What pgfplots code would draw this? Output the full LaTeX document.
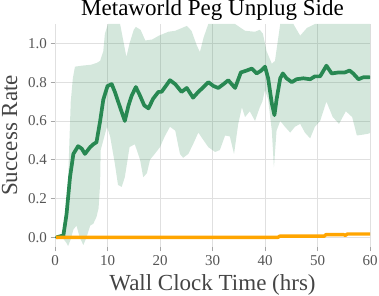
\documentclass[border=0pt]{standalone}
\usepackage{fontspec}
\setmainfont{Liberation Serif}
\usepackage{pgfplots}
\pgfplotsset{compat=1.18}
\usepgfplotslibrary{fillbetween}
\definecolor{sgreen}{RGB}{40,136,82}
\definecolor{sorange}{RGB}{255,165,0}
\definecolor{lab}{RGB}{68,68,68}
\definecolor{tl}{RGB}{85,85,85}
\definecolor{gridc}{RGB}{224,224,224}
\begin{document}
\begin{tikzpicture}
\begin{axis}[
  at={(55pt,49pt)}, anchor=south west,
  scale only axis, width=315pt, height=223pt,
  xmin=0, xmax=60, ymin=-0.05, ymax=1.1,
  xtick={0,10,20,30,40,50,60},
  ytick={0,0.2,0.4,0.6,0.8,1.0},
  yticklabel style={/pgf/number format/.cd, fixed, fixed zerofill, precision=1},
  /pgf/number format/assume math mode=true,
  tick label style={font=\fontsize{15}{18}\selectfont, text=tl},
  axis x line*=bottom, axis y line*=left,
  axis line style={draw=none},
  tick align=outside, major tick length=4.5pt,
  tick style={color=gray!70, line width=0.8pt},
  grid=major, major grid style={gridc, line width=0.8pt},
  title={Metaworld Peg Unplug Side},
  every axis title/.style={font=\fontsize{23}{23}\selectfont, text=black, at={(axis description cs:0.5,1)}, anchor=base, yshift=8pt, inner sep=0pt},
  xlabel={Wall Clock Time (hrs)},
  every axis x label/.style={font=\fontsize{23}{23}\selectfont, text=lab, at={(axis description cs:0.5,0)}, anchor=base, yshift=-44pt, inner sep=0pt},
  ylabel={Success Rate},
  every axis y label/.style={font=\fontsize{23}{23}\selectfont, text=lab, at={(axis description cs:-0.1206,0.5)}, rotate=90, anchor=base, inner sep=0pt},
  clip=true,
]
\addplot[name path=up, draw=none, forget plot] coordinates {
(0,0.0)(1.5,0.02)(2.0,0.05)(2.5,0.3)(3.0,0.7)(3.4,0.82)(3.8,0.88)(5.4,0.886)(6.9,0.89)(8.0,0.9)(8.6,0.91)(9.2,0.96)(9.5,1.05)(10.1,1.1)(12.4,1.1)(13.0,1.015)(13.6,0.93)(14.2,1.0)(15.0,1.07)(15.4,1.085)(16.3,1.07)(17.2,1.015)(18.5,1.02)(19.8,1.04)(21.6,1.06)(22.9,1.065)(25.1,1.09)(26.0,1.065)(27.0,0.99)(27.6,0.955)(28.3,1.03)(29.2,1.1)(34.3,1.1)(36.2,1.065)(38.1,1.06)(39.0,1.07)(39.6,1.05)(40.3,0.96)(41.3,0.895)(41.9,0.91)(42.9,1.1)(45.4,1.1)(46.7,1.04)(48.0,1.08)(49.5,1.1)(60,1.1)
};
\addplot[name path=lo, draw=none, forget plot] coordinates {
(0,0.0)(1.5,-0.005)(2.2,-0.03)(2.5,-0.045)(3.0,-0.01)(3.5,0.04)(4.1,0.06)(4.7,0.0)(5.4,-0.04)(6.0,0.0)(6.7,0.06)(7.3,0.07)(7.9,0.105)(8.3,0.15)(8.6,0.28)(8.7,0.45)(9.2,0.5)(9.9,0.57)(10.5,0.52)(11.4,0.38)(12.0,0.27)(12.7,0.26)(13.3,0.31)(14.2,0.465)(15.2,0.48)(16.2,0.40)(16.8,0.31)(17.5,0.33)(18.1,0.40)(19.0,0.43)(20.0,0.465)(20.9,0.52)(21.9,0.57)(22.9,0.55)(23.8,0.43)(24.4,0.41)(25.4,0.43)(26.3,0.48)(27.3,0.54)(28.3,0.5)(29.2,0.465)(30.5,0.44)(31.4,0.45)(32.4,0.525)(33.3,0.52)(34.1,0.43)(34.9,0.585)(35.6,0.67)(36.2,0.62)(37.1,0.65)(38.1,0.60)(39.0,0.67)(39.5,0.70)(40.0,0.76)(40.6,0.71)(41.3,0.55)(41.7,0.36)(42.2,0.55)(42.9,0.60)(43.8,0.57)(44.8,0.54)(45.7,0.57)(46.7,0.585)(47.6,0.54)(48.6,0.51)(49.5,0.57)(50.5,0.60)(51.7,0.70)(52.9,0.62)(54.1,0.585)(55.4,0.65)(56.6,0.62)(57.5,0.525)(58.8,0.53)(59.8,0.535)(60,0.54)
};
\addplot[fill=sgreen, fill opacity=0.2, draw=none, forget plot] fill between[of=up and lo];
\addplot[sgreen, line width=3.7pt, line join=round, line cap=round] coordinates {
(0.3,0.0)(1.0,0.005)(1.6,0.01)(2.2,0.12)(2.86,0.31)(3.5,0.43)(4.4,0.47)(5.1,0.457)(5.7,0.43)(6.7,0.465)(7.3,0.48)(7.9,0.49)(8.6,0.60)(9.2,0.71)(10.0,0.78)(10.8,0.79)(11.4,0.75)(12.4,0.67)(13.3,0.60)(14.0,0.68)(14.6,0.73)(15.4,0.775)(16.2,0.73)(17.0,0.68)(17.8,0.665)(18.7,0.715)(19.7,0.75)(20.3,0.75)(21.9,0.81)(22.9,0.79)(24.1,0.75)(25.1,0.77)(26.3,0.72)(27.3,0.75)(28.3,0.775)(29.2,0.80)(30.2,0.78)(31.1,0.77)(32.1,0.79)(33.0,0.81)(34.3,0.77)(35.4,0.85)(36.5,0.86)(37.5,0.87)(38.4,0.845)(39.3,0.86)(40.0,0.88)(40.6,0.82)(41.3,0.69)(41.8,0.63)(42.2,0.71)(42.9,0.82)(43.4,0.845)(44.1,0.82)(45.1,0.80)(46.0,0.815)(47.3,0.82)(48.6,0.815)(49.5,0.83)(50.5,0.83)(51.7,0.885)(52.7,0.845)(54.0,0.85)(55.2,0.85)(56.1,0.86)(56.8,0.845)(57.8,0.815)(58.7,0.825)(59.9,0.825)
};
\addplot[sorange, line width=3.4pt, line join=round] coordinates {
(0.2,0.0)(42.5,0.0)(42.8,0.006)(51.3,0.006)(51.6,0.014)(54.9,0.014)(55.3,0.010)(55.7,0.017)(60,0.017)
};
\end{axis}
\pgfresetboundingbox
\path[use as bounding box] (0,0) rectangle (379pt,296pt);
\end{tikzpicture}
\end{document}
